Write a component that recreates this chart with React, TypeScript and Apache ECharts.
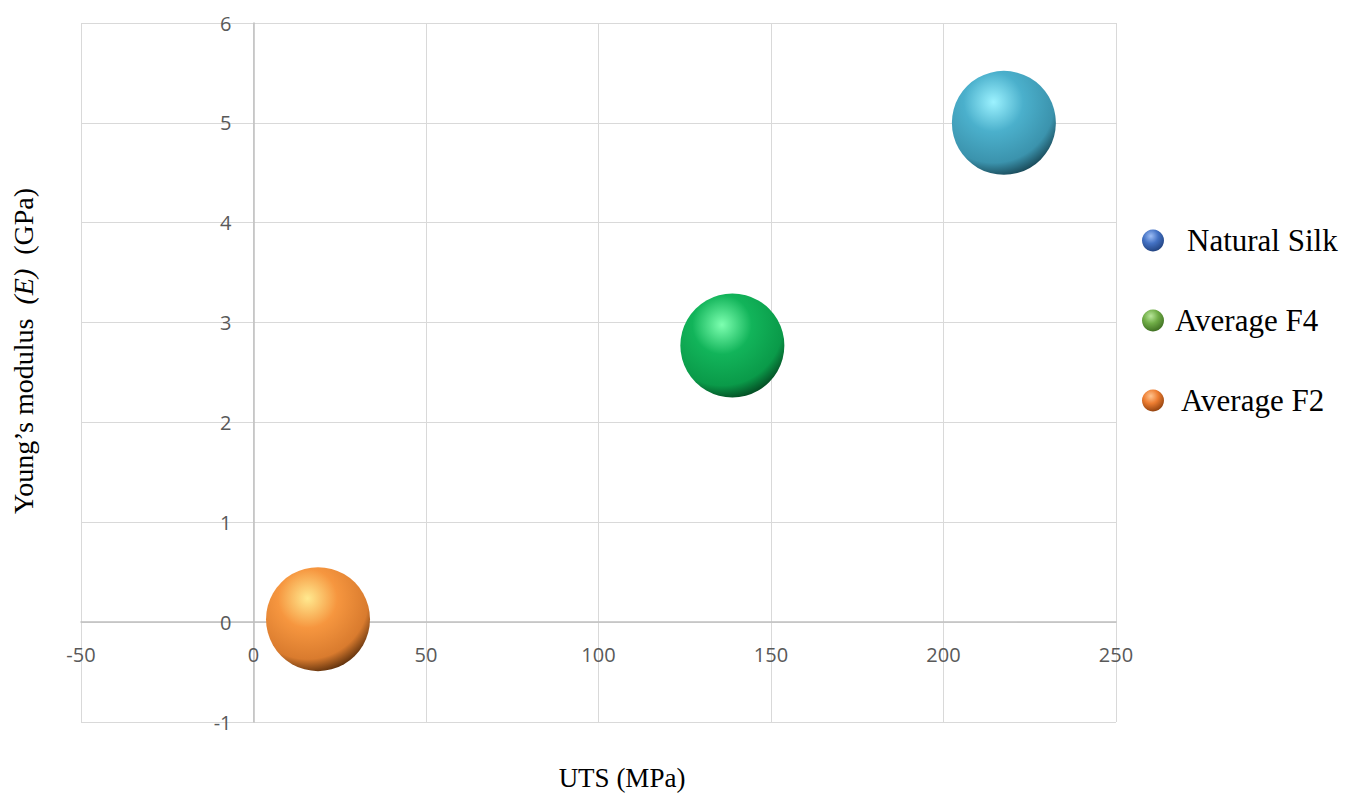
import React, { useEffect, useRef } from "react";
import * as echarts from "echarts";

// Bubble chart: ultimate tensile strength vs Young's modulus
const seriesNames = ["Natural Silk", "Average F4", "Average F2"];
const utsValues = [217.5, 138.8, 18.7]; // MPa
const modulusValues = [5.0, 2.77, 0.03]; // GPa

const xTicks = { min: -50, max: 250, interval: 50 };
const yTicks = { min: -1, max: 6, interval: 1 };

// sphere shading for bubbles: [highlight, base, shade, rim]
const bubblePalette = [
  ["#9cf2ff", "#4bb0cc", "#3b93ad", "#143d4a"],
  ["#7dffb0", "#12b45a", "#0a9a49", "#033d1c"],
  ["#ffe98f", "#f6963f", "#d97b2e", "#4a2407"],
];
// legend key colours
const legendPalette = [
  ["#9dbdf5", "#4472c4", "#1f3f7a"],
  ["#b8e69a", "#70ad47", "#3b6a1f"],
  ["#ffc48f", "#ed7d31", "#8a3d0c"],
];

const sphere = (c: string[]) =>
  new echarts.graphic.RadialGradient(0.4, 0.3, 0.75, [
    { offset: 0, color: c[0] },
    { offset: 0.38, color: c[1] },
    { offset: 0.78, color: c[2] },
    { offset: 1, color: c[3] },
  ]);

const smallSphere = (c: string[]) =>
  new echarts.graphic.RadialGradient(0.4, 0.3, 0.75, [
    { offset: 0, color: c[0] },
    { offset: 0.45, color: c[1] },
    { offset: 1, color: c[2] },
  ]);

const legendPad = [18, 6, 12];

const GRID = { left: 81, right: 231, top: 23, bottom: 71 };
const CHART_W = 1347;
const CHART_H = 793;

export default function App() {
  const ref = useRef<HTMLDivElement>(null);

  useEffect(() => {
    if (!ref.current) return;
    const chart = echarts.init(ref.current, undefined, { renderer: "svg" });

    const serif = "'Liberation Serif', 'Times New Roman', serif";
    const tickFont = {
      color: "#595959",
      fontFamily: "'Open Sans', 'Noto Sans', sans-serif",
      fontSize: 20,
    };

    // tick labels sit beside the zero lines rather than the plot edges
    const plotW = CHART_W - GRID.left - GRID.right;
    const plotH = CHART_H - GRID.top - GRID.bottom;
    const zeroFromLeft = ((0 - xTicks.min) / (xTicks.max - xTicks.min)) * plotW;
    const zeroFromBottom = ((0 - yTicks.min) / (yTicks.max - yTicks.min)) * plotH;

    const rich: Record<string, any> = {};
    seriesNames.forEach((_, i) => {
      rich["k" + i] = {
        fontFamily: serif,
        fontSize: 31,
        color: "#000",
        padding: [0, 0, 0, legendPad[i]],
      };
    });

    chart.setOption({
      animation: false,
      backgroundColor: "#ffffff",
      grid: GRID,
      xAxis: {
        type: "value",
        min: xTicks.min,
        max: xTicks.max,
        interval: xTicks.interval,
        axisLine: { onZero: true, lineStyle: { color: "#bfbfbf", width: 1.5 } },
        axisTick: { show: false },
        axisLabel: { ...tickFont, margin: 22 - zeroFromBottom },
        splitLine: { lineStyle: { color: "#d9d9d9", width: 1 } },
      },
      yAxis: {
        type: "value",
        min: yTicks.min,
        max: yTicks.max,
        interval: yTicks.interval,
        axisLine: { show: true, onZero: true, lineStyle: { color: "#bfbfbf", width: 1.5 } },
        axisTick: { show: false },
        axisLabel: { ...tickFont, margin: 22 - zeroFromLeft },
        splitLine: { lineStyle: { color: "#d9d9d9", width: 1 } },
      },
      legend: {
        orient: "vertical",
        left: 1137,
        top: 220,
        itemWidth: 22,
        itemHeight: 22,
        itemGap: 49,
        icon: "circle",
        data: seriesNames.map((name, i) => ({
          name,
          icon: "circle",
          itemStyle: { color: smallSphere(legendPalette[i]) },
        })),
        formatter: (name: string) => `{k${seriesNames.indexOf(name)}|${name}}`,
        textStyle: { fontFamily: serif, fontSize: 31, lineHeight: 28, color: "#000", rich },
      },
      series: seriesNames.map((name, i) => ({
        name,
        type: "scatter",
        symbol: "circle",
        symbolSize: 104,
        data: [[utsValues[i], modulusValues[i]]],
        itemStyle: { color: sphere(bubblePalette[i]), opacity: 1 },
        emphasis: { disabled: true },
      })),
      graphic: [
        {
          type: "text",
          x: 622,
          y: 778,
          style: {
            text: "UTS (MPa)",
            fontFamily: serif,
            fontSize: 27,
            fill: "#000",
            align: "center",
            verticalAlign: "middle",
          },
        },
        {
          type: "text",
          x: 23,
          y: 351,
          rotation: Math.PI / 2,
          style: {
            text: "{a|Young’s modulus  }{i|(E)}{a|  (GPa)}",
            align: "center",
            verticalAlign: "middle",
            rich: {
              a: { fontFamily: serif, fontSize: 28, fill: "#000", color: "#000" },
              i: { fontFamily: serif, fontSize: 28, fontStyle: "italic", fill: "#000", color: "#000" },
            },
          },
        },
      ],
    });

    return () => chart.dispose();
  }, []);

  return (
    <div
      ref={ref}
      style={{ position: "fixed", left: 0, top: 0, width: CHART_W, height: CHART_H }}
    />
  );
}
